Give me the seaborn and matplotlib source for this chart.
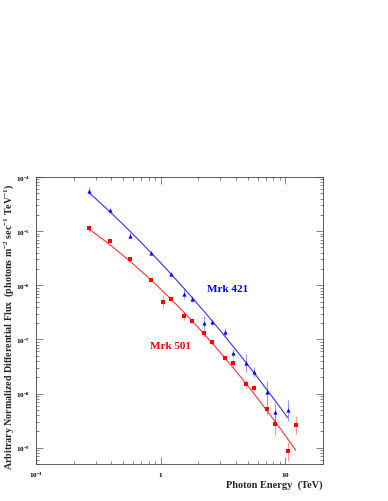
import numpy as np
import pandas as pd
import matplotlib
matplotlib.use("Agg")
import matplotlib.pyplot as plt
import seaborn as sns
from matplotlib.ticker import LogLocator, FixedLocator, FixedFormatter, NullFormatter

sns.set_style("ticks")
plt.rcParams["font.family"] = ["Liberation Serif", "DejaVu Serif"]
plt.rcParams["mathtext.fontset"] = "custom"
plt.rcParams["mathtext.rm"] = "Liberation Serif:bold"
plt.rcParams["mathtext.bf"] = "Liberation Serif:bold"
plt.rcParams["mathtext.it"] = "Liberation Serif:bold"

# ---- data ----
# Mrk 421 (blue triangles)
e421 = [0.264, 0.389, 0.569, 0.832, 1.215, 1.535, 1.79, 2.22, 2.60, 3.30,
        3.83, 4.82, 5.62, 7.09, 8.28, 10.4]
f421 = [5.59e-5, 2.43e-5, 8.26e-6, 3.96e-6, 1.62e-6, 6.93e-7, 5.61e-7, 2.02e-7,
        2.08e-7, 1.38e-7, 5.59e-8, 3.65e-8, 2.49e-8, 1.05e-8, 4.56e-9, 4.88e-9]
err421 = [0.06, 0.03, 0.04, 0.03, 0.04, 0.09, 0.05, 0.12, 0.06, 0.07,
          0.08, 0.16, 0.09, 0.21, 0.17, 0.20]   # half-width in decades

# Mrk 501 (red squares)
e501 = [0.264, 0.389, 0.569, 0.832, 1.05, 1.215, 1.535, 1.79, 2.22, 2.60,
        3.30, 3.83, 4.82, 5.62, 7.09, 8.28, 10.4, 12.1]
f501 = [1.13e-5, 6.52e-6, 3.07e-6, 1.24e-6, 5.0e-7, 5.61e-7, 2.69e-7, 2.18e-7,
        1.31e-7, 8.91e-8, 4.58e-8, 3.70e-8, 1.50e-8, 1.26e-8, 5.25e-9, 2.74e-9,
        8.55e-10, 2.65e-9]
err501 = [0.06, 0.03, 0.03, 0.03, 0.12, 0.04, 0.075, 0.04, 0.07, 0.05,
          0.05, 0.07, 0.08, 0.05, 0.11, 0.20, 0.17, 0.17]

# curved power-law fits: log10 F = a + b*log10 E + c*(log10 E)^2
fit421 = dict(a=-5.587, b=-2.457, c=-0.345, emin=0.264, emax=10.4)
fit501 = dict(a=-6.072, b=-2.213, c=-0.496, emin=0.264, emax=12.1)

blue = "#0000ff"
red = "#ff0000"


def fit_curve(p, name):
    u = np.linspace(np.log10(p["emin"]), np.log10(p["emax"]), 200)
    return pd.DataFrame({"E": 10 ** u,
                         "F": 10 ** (p["a"] + p["b"] * u + p["c"] * u ** 2),
                         "src": name})


pts = pd.concat([
    pd.DataFrame({"E": e421, "F": f421, "err": err421, "src": "Mrk 421"}),
    pd.DataFrame({"E": e501, "F": f501, "err": err501, "src": "Mrk 501"}),
], ignore_index=True)
curves = pd.concat([fit_curve(fit421, "Mrk 421"), fit_curve(fit501, "Mrk 501")],
                   ignore_index=True)
pal = {"Mrk 421": blue, "Mrk 501": red}

fig = plt.figure(figsize=(3.88, 5.02), dpi=100)
ax = fig.add_axes([0.0928, 0.0737, 0.7397, 0.5717])

sns.lineplot(data=curves, x="E", y="F", hue="src", palette=pal, lw=0.8,
             alpha=0.8, legend=False, ax=ax)

# error bars
for src, g in pts.groupby("src"):
    lo = g["F"] - g["F"] * 10 ** (-g["err"])
    hi = g["F"] * 10 ** (g["err"]) - g["F"]
    ax.errorbar(g["E"], g["F"], yerr=[lo, hi], fmt="none", ecolor=pal[src],
                elinewidth=0.8, alpha=0.4, capsize=0)

sns.scatterplot(data=pts[pts.src == "Mrk 421"], x="E", y="F", color=blue,
                marker="^", s=9, linewidth=0, ax=ax, zorder=5)
sns.scatterplot(data=pts[pts.src == "Mrk 501"], x="E", y="F", color=red,
                marker="s", s=8, linewidth=0, ax=ax, zorder=5)

ax.set_xscale("log")
ax.set_yscale("log")
ax.set_xlim(0.1, 20)
ax.set_ylim(5e-10, 1e-4)

# ROOT style ticks
ax.xaxis.set_major_locator(FixedLocator([0.1, 1, 10]))
ax.xaxis.set_major_formatter(FixedFormatter([r"$10^{-1}$", r"$1$", r"$10$"]))
ax.xaxis.set_minor_locator(LogLocator(base=10, subs=np.arange(2, 10), numticks=20))
ax.xaxis.set_minor_formatter(NullFormatter())
ydec = [1e-9, 1e-8, 1e-7, 1e-6, 1e-5, 1e-4]
ax.yaxis.set_major_locator(FixedLocator(ydec))
ax.yaxis.set_major_formatter(FixedFormatter([r"$10^{-9}$", r"$10^{-8}$", r"$10^{-7}$",
                                             r"$10^{-6}$", r"$10^{-5}$", r"$10^{-4}$"]))
ax.yaxis.set_minor_locator(LogLocator(base=10, subs=np.arange(2, 10), numticks=20))
ax.yaxis.set_minor_formatter(NullFormatter())
ax.tick_params(which="both", direction="in", top=True, right=True, width=0.5,
               labelsize=5, colors="#555555", labelcolor="black")
ax.tick_params(which="major", length=5, pad=4)
ax.tick_params(which="minor", length=2.5)
for s in ax.spines.values():
    s.set_linewidth(0.6)
    s.set_color("#444444")

ax.set_xlabel("")
ax.set_ylabel("")
ax.text(1.0, -0.07, "Photon Energy  (TeV)", transform=ax.transAxes, ha="right",
        va="center", fontsize=7.5, fontweight="bold")
fig.text(0.024, 0.0737 + 0.5717 / 2 - 0.01,
         r"Arbitrary Normalized Differential Flux  (photons m$^{-2}$ sec$^{-1}$ TeV$^{-1}$)",
         rotation=90, ha="center", va="center", fontsize=7.2, fontweight="bold")

ax.text(3.44, 8.6e-7, "Mrk 421", color=blue, fontsize=8,
        fontweight="bold", ha="center", va="center")
ax.text(1.19, 7.6e-8, "Mrk 501", color=red, fontsize=8,
        fontweight="bold", ha="center", va="center")

fig.savefig("out.png", dpi=100, facecolor="white")
